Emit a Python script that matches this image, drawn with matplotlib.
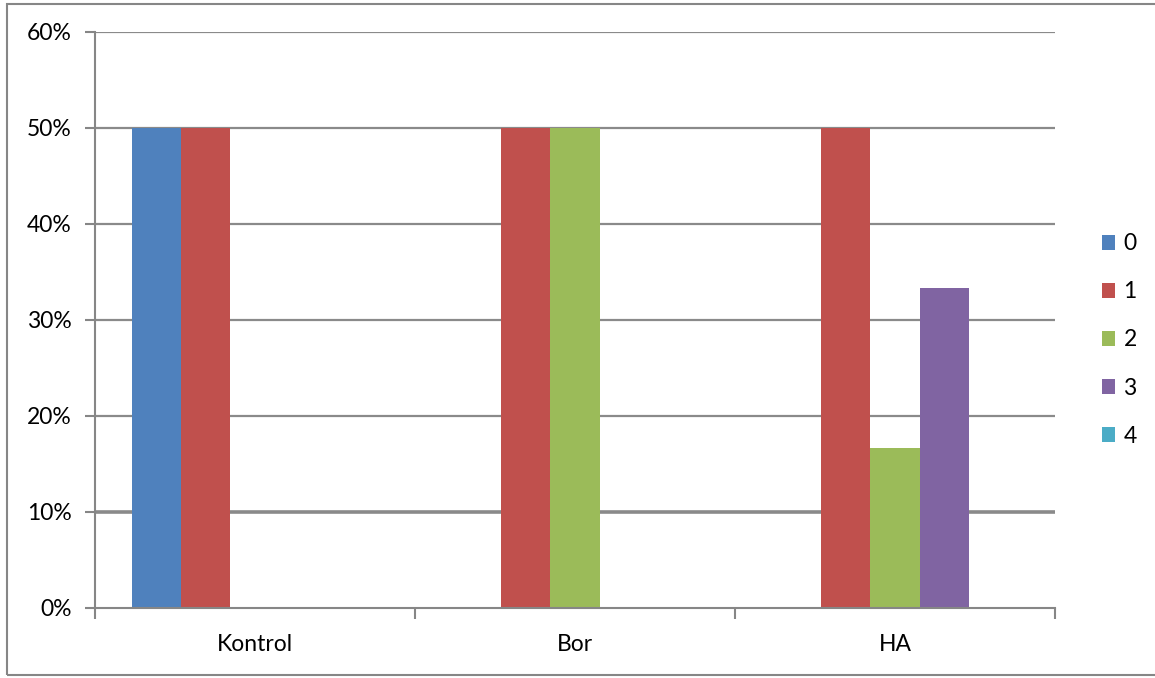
import matplotlib.pyplot as plt
from matplotlib.patches import Rectangle
from matplotlib.ticker import FuncFormatter

categories = ["Kontrol", "Bor", "HA"]
series_names = ["0", "1", "2", "3", "4"]
values = {
    "0": [50.0, 0.0, 0.0],
    "1": [50.0, 50.0, 50.0],
    "2": [0.0, 50.0, 16.67],
    "3": [0.0, 0.0, 33.33],
    "4": [0.0, 0.0, 0.0],
}
colors = ["#4F81BD", "#C0504D", "#9BBB59", "#8064A2", "#4BACC6"]
yticks = [0, 10, 20, 30, 40, 50, 60]

plt.rcParams['font.family'] = ['Lato', 'DejaVu Sans']

W, H = 1155, 678
fig = plt.figure(figsize=(W / 100, H / 100), dpi=100)
fig.patch.set_facecolor("white")

# outer chart frame
fig.add_artist(Rectangle((7 / W, 1 - 675 / H), (W + 10 - 7) / W, (675 - 4) / H,
                         transform=fig.transFigure, fill=False,
                         edgecolor="#868686", linewidth=1.5, clip_on=False))

ax = fig.add_axes([95 / W, 1 - 608 / H, (1055 - 95) / W, (608 - 32) / H])

n = len(series_names)
bar_w = 1.0 / (n + 1.5)
group_start = 0.75 * bar_w
for i, name in enumerate(series_names):
    xs = [c + group_start + (i + 0.5) * bar_w for c in range(len(categories))]
    ax.bar(xs, values[name], width=bar_w, color=colors[i], label=name,
           zorder=3, linewidth=0)

ax.set_xlim(0, len(categories))
ax.set_ylim(0, 60)
ax.set_yticks(yticks)
ax.yaxis.set_major_formatter(FuncFormatter(lambda v, p: f"{int(v)}%"))

for y in yticks[1:]:
    lw = 2.6 if y == 10 else 1.6
    ax.axhline(y, color="#8a8a8a", linewidth=lw, zorder=1)

ax.set_xticks(range(len(categories) + 1))
ax.set_xticklabels([])
ax.set_xticks([c + 0.5 for c in range(len(categories))], minor=True)
ax.set_xticklabels(categories, minor=True)
ax.tick_params(axis="x", which="minor", length=0, pad=19, labelsize=16.5)
ax.tick_params(axis="x", which="major", length=8, width=1.5, color="#868686")
ax.tick_params(axis="y", length=7, width=1.5, color="#868686", labelsize=16.5, pad=10)

for side in ["top", "right"]:
    ax.spines[side].set_visible(False)
for side in ["left", "bottom"]:
    ax.spines[side].set_color("#868686")
    ax.spines[side].set_linewidth(1.5)
    ax.spines[side].set_zorder(4)

leg = ax.legend(loc="center left", bbox_to_anchor=(1081 / W, 1 - 340 / H),
                bbox_transform=fig.transFigure, frameon=False, fontsize=16.5,
                handlelength=0.6, handleheight=0.6, handletextpad=0.35,
                labelspacing=1.18)

fig.savefig("out.png", dpi=100)
